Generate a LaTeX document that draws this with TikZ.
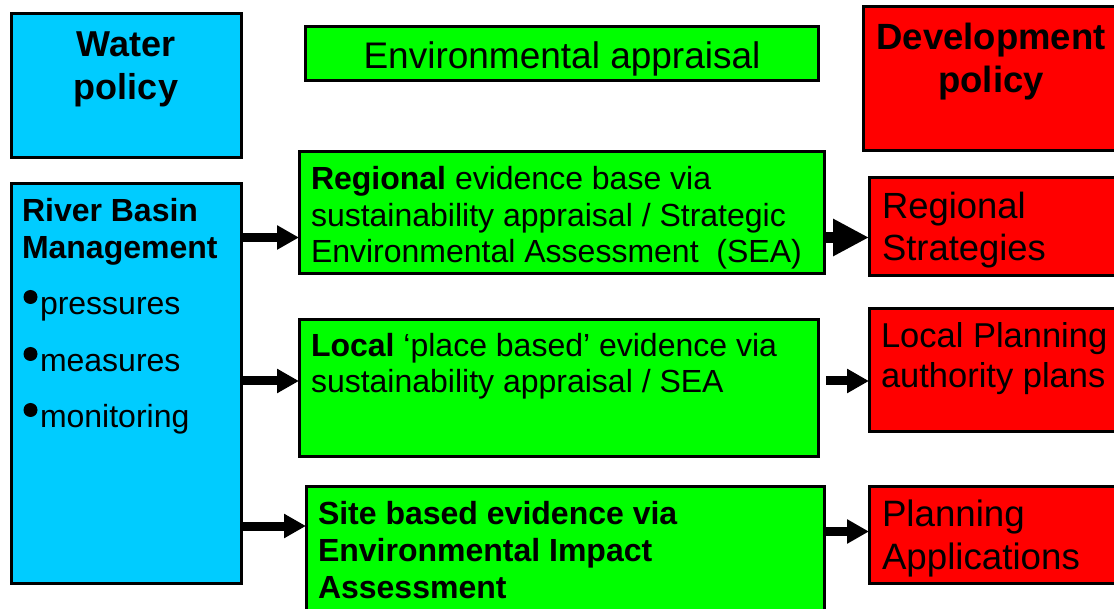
\documentclass[tikz,border=0pt]{standalone}
\usepackage{fontspec}
\setmainfont{Liberation Sans}
\usetikzlibrary{arrows.meta}
\definecolor{wcyan}{HTML}{00CCFF}
\definecolor{egreen}{HTML}{00FF00}
\definecolor{dred}{HTML}{FF0000}
\tikzset{
  box/.style={draw=black, line width=3pt, anchor=north west, inner sep=0pt, outer sep=0pt},
  cyanbox/.style={box, fill=wcyan},
  greenbox/.style={box, fill=egreen},
  redbox/.style={box, fill=dred},
  txt/.style={anchor=base west, inner sep=0pt, outer sep=0pt, text=black},
  ctxt/.style={anchor=base, inner sep=0pt, outer sep=0pt, text=black},
  arr/.style={line width=9pt, -{Triangle[length=22pt,width=23pt]}},
  bigarr/.style={line width=11pt, -{Triangle[length=36pt,width=35pt]}},
  bul/.style={fill=black}
}
\newcommand{\sz}[1]{\fontsize{#1}{#1}\selectfont}
\begin{document}
\begin{tikzpicture}[x=1pt,y=-1pt]
\useasboundingbox (0,0) rectangle (1114,609);
\clip (0,0) rectangle (1114,609);
\fill[white] (0,0) rectangle (1114,609);
% boxes
\node[cyanbox, minimum width=230pt, minimum height=144pt] (wp) at (11,14) {};
\node[cyanbox, minimum width=230pt, minimum height=399pt] (rb) at (11,184) {};
\node[greenbox, minimum width=513pt, minimum height=54pt] (ea) at (305,27) {};
\node[redbox, minimum width=270pt, minimum height=144pt] (dp) at (863,7) {};
\node[greenbox, minimum width=525pt, minimum height=122pt] (reg) at (299,152) {};
\node[redbox, minimum width=260pt, minimum height=98pt] (rs) at (869,178) {};
\node[greenbox, minimum width=519pt, minimum height=136pt] (loc) at (299,320) {};
\node[redbox, minimum width=260pt, minimum height=123pt] (lpa) at (869,309) {};
\node[greenbox, minimum width=518pt, minimum height=140pt] (site) at (306,486) {};
\node[redbox, minimum width=260pt, minimum height=97pt] (pa) at (869,486) {};
% texts
\node[ctxt] (wp1) at (126,57) {\sz{36}\bfseries Water};
\node[ctxt] (wp2) at (126,100) {\sz{36}\bfseries policy};
\node[ctxt] (ea1) at (562,69) {\sz{37}Environmental appraisal};
\node[ctxt] (dp1) at (991,50) {\sz{36.5}\bfseries Development};
\node[ctxt] (dp2) at (991,93) {\sz{36.5}\bfseries policy};
\node[txt] (rb1) at (22,222) {\sz{32}\bfseries River Basin};
\node[txt] (rb2) at (22,259) {\sz{32}\bfseries Management};
\fill[bul] (30.5,297) circle (7);
\node[txt] (rb3) at (40,315) {\sz{32}pressures};
\fill[bul] (30.5,354) circle (7);
\node[txt] (rb4) at (40,372) {\sz{32}measures};
\fill[bul] (30.5,410) circle (7);
\node[txt] (rb5) at (40,428) {\sz{32}monitoring};
\node[txt] (reg1) at (311,190) {\sz{32}\textbf{Regional} evidence base via};
\node[txt] (reg2) at (311,227) {\sz{32}sustainability appraisal / Strategic};
\node[txt] (reg3) at (311,263) {\sz{32}Environmental Assessment\ \ (SEA)};
\node[txt] (loc1) at (311,357) {\sz{32}\textbf{Local} ‘place based’ evidence via};
\node[txt] (loc2) at (311,393) {\sz{32}sustainability appraisal / SEA};
\node[txt] (site1) at (318,524) {\sz{32}\bfseries Site based evidence via};
\node[txt] (site2) at (318,561) {\sz{32}\bfseries Environmental Impact};
\node[txt] (site3) at (318,598) {\sz{32}\bfseries Assessment};
\node[txt] (rs1) at (882,219) {\sz{36.4}Regional};
\node[txt] (rs2) at (882,261) {\sz{36.4}Strategies};
\node[txt] (lpa1) at (881,348) {\sz{34.5}Local Planning};
\node[txt] (lpa2) at (881,388) {\sz{34.5}authority plans};
\node[txt] (pa1) at (882,526) {\sz{36.7}Planning};
\node[txt] (pa2) at (882,569) {\sz{36.7}Applications};
% arrows
\draw[arr] (rb.east |- 0,237.5) -- (reg.west |- 0,237.5);
\draw[arr] (rb.east |- 0,381) -- (loc.west |- 0,381);
\draw[arr] (rb.east |- 0,526) -- (site.west |- 0,526);
\draw[bigarr] (reg.east |- 0,237.5) -- (rs.west |- 0,237.5);
\draw[arr] ([xshift=8pt]loc.east |- 0,381) -- (lpa.west |- 0,381);
\draw[arr] (site.east |- 0,531.5) -- (pa.west |- 0,531.5);
\end{tikzpicture}
\end{document}
